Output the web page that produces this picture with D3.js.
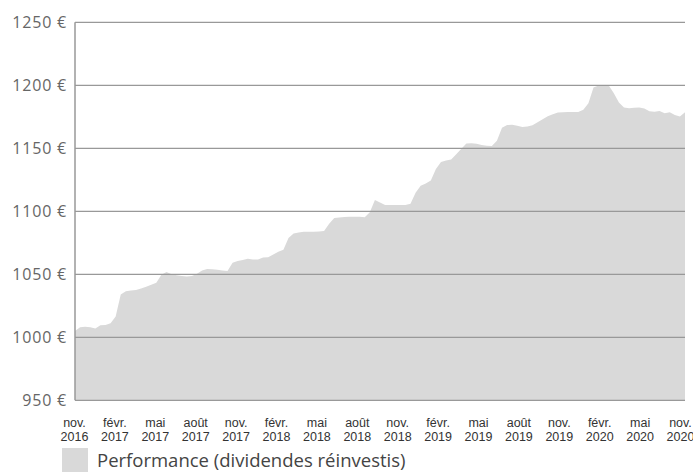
<!DOCTYPE html>
<html>
<head>
<meta charset="utf-8">
<script src="https://cdn.jsdelivr.net/npm/d3@7"></script>
<style>
  body { margin: 0; background: #fff; }
</style>
</head>
<body>
<div id="chart"></div>
<script>
// tick labels on the x axis (one every 8 points)
var xLabels = ["nov.|2016", "févr.|2017", "mai|2017", "août|2017", "nov.|2017", "févr.|2018",
               "mai|2018", "août|2018", "nov.|2018", "févr.|2019", "mai|2019", "août|2019",
               "nov.|2019", "févr.|2020", "mai|2020", "nov.|2020"];
var yTicks = [950, 1000, 1050, 1100, 1150, 1200, 1250];
var seriesName = "Performance (dividendes réinvestis)";
// portfolio value
var values = [
  1005, 1008, 1008.4, 1008, 1007, 1009.5, 1009.8, 1011.2, 1016.5, 1034,
  1036.5, 1037.2, 1037.5, 1038.7, 1040.1, 1041.7, 1043.2, 1049.7, 1051.9, 1050,
  1049.2, 1048.6, 1048.2, 1048.6, 1050.4, 1053, 1054.3, 1054, 1053.7, 1053.1,
  1052.6, 1059.1, 1060.5, 1061.3, 1062.3, 1061.8, 1061.7, 1063.4, 1063.5, 1065.8,
  1067.9, 1069.5, 1078.9, 1082.4, 1083.2, 1083.7, 1083.8, 1083.8, 1084, 1084.3,
  1090.1, 1094.6, 1095.1, 1095.5, 1095.7, 1095.7, 1095.7, 1095.2, 1099.3, 1108.9,
  1107, 1105, 1105, 1105, 1105, 1105, 1105.9, 1114.8, 1120.2, 1122,
  1124.4, 1133.6, 1139.2, 1140.4, 1141.2, 1145.3, 1149.7, 1153.8, 1154, 1153.7,
  1152.7, 1152, 1151.9, 1155.9, 1166.4, 1168.5, 1168.6, 1167.9, 1166.9, 1167.3,
  1168.3, 1170.6, 1173.1, 1175.4, 1177, 1178.5, 1178.7, 1178.8, 1178.8, 1178.8,
  1180.5, 1185.8, 1198.2, 1199.9, 1200.1, 1199.8, 1193.7, 1186.3, 1182.3, 1181.8,
  1182.2, 1182.3, 1181.6, 1179.5, 1179, 1179.7, 1177.9, 1178.6, 1176.5, 1175.2,
  1178.6
];

function init(){
    var w = 693;
    var h = 472;
    var left = 75, right = 685, top = 22.3, bottom = 400.3;

    var svg = d3.select("#chart")
                .append("svg")
                .attr("width", w)
                .attr("height", h);

    var xScale = d3.scaleLinear()
                    .domain([0, values.length - 1])
                    .range([left, right]);
    var yScale = d3.scaleLinear()
                    .domain([950, 1250])
                    .range([bottom, top]);
    // labels sit slightly inside the plot so the last one fits the window
    var labelScale = d3.scalePoint()
                    .domain(d3.range(xLabels.length))
                    .range([74.5, 680.5]);

    // area
    var area = d3.area()
                .x(function(d, i){ return xScale(i); })
                .y0(yScale(950))
                .y1(function(d){ return yScale(d); });

    svg.append("path")
        .datum(values)
        .attr("d", area)
        .attr("fill", "#d9d9d9");

    // gridlines
    svg.selectAll("line.grid")
        .data(yTicks)
        .enter()
        .append("line")
        .attr("class", "grid")
        .attr("x1", left)
        .attr("x2", right)
        .attr("y1", function(d){ return yScale(d); })
        .attr("y2", function(d){ return yScale(d); })
        .attr("stroke", "#999")
        .attr("stroke-width", 1.3);

    // left axis line
    svg.append("line")
        .attr("x1", left).attr("x2", left)
        .attr("y1", yScale(1250)).attr("y2", yScale(950))
        .attr("stroke", "#999")
        .attr("stroke-width", 1.5);

    // y labels
    svg.selectAll("text.ylab")
        .data(yTicks)
        .enter()
        .append("text")
        .attr("class", "ylab")
        .attr("x", 67)
        .attr("y", function(d){ return yScale(d); })
        .attr("dy", "0.36em")
        .attr("text-anchor", "end")
        .attr("font-family", "Open Sans, sans-serif")
        .attr("font-size", "16px")
        .attr("letter-spacing", "0.8px")
        .attr("fill", "#666")
        .text(function(d){ return d + " €"; });

    // x labels, two lines each
    var xl = svg.selectAll("text.xlab")
        .data(xLabels)
        .enter()
        .append("text")
        .attr("class", "xlab")
        .attr("text-anchor", "middle")
        .attr("font-family", "Liberation Sans Narrow, sans-serif")
        .attr("font-size", "12.5px")
        .attr("fill", "#333");

    xl.append("tspan")
        .attr("x", function(d, i){ return labelScale(i); })
        .attr("y", 427)
        .text(function(d){ return d.split("|")[0]; });
    xl.append("tspan")
        .attr("x", function(d, i){ return labelScale(i); })
        .attr("y", 441)
        .text(function(d){ return d.split("|")[1]; });

    // legend
    svg.append("rect")
        .attr("x", 62)
        .attr("y", 448)
        .attr("width", 26)
        .attr("height", 26)
        .attr("fill", "#d9d9d9");

    svg.append("text")
        .attr("x", 97)
        .attr("y", 467)
        .attr("font-family", "Open Sans, sans-serif")
        .attr("font-size", "18.5px")
        .attr("fill", "#444")
        .text(seriesName);
}

window.onload = init;
</script>
</body>
</html>
